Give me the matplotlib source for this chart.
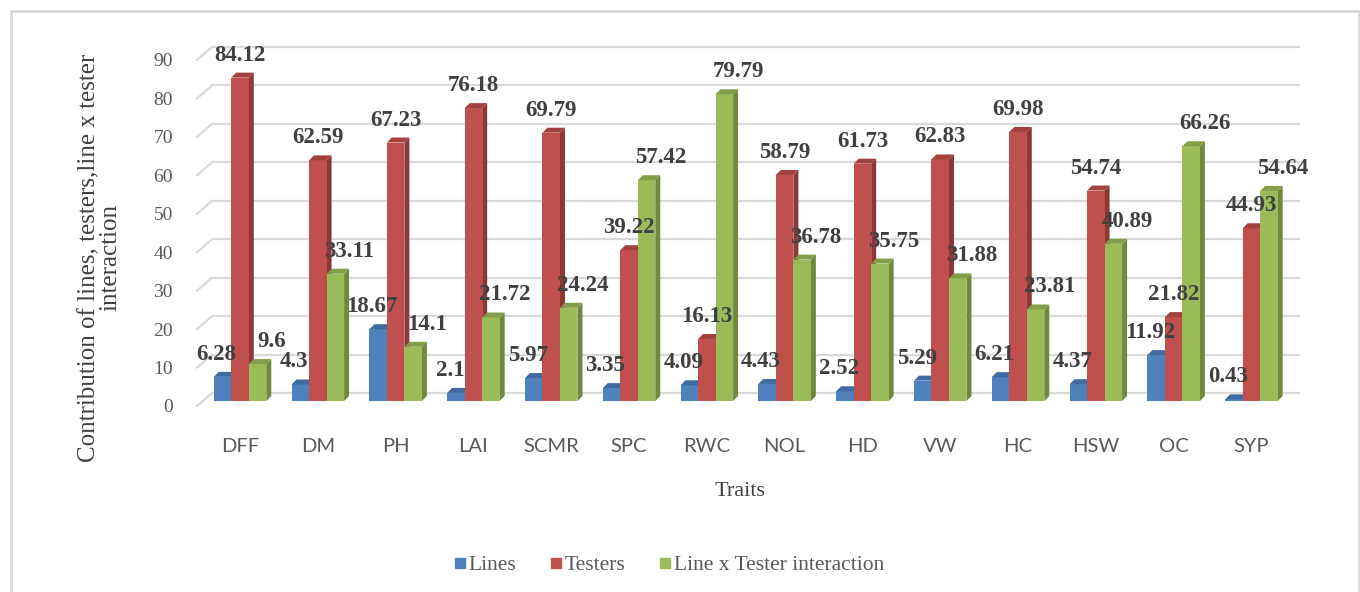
import matplotlib
matplotlib.use("Agg")
import matplotlib.pyplot as plt
import matplotlib.transforms as mtransforms
from matplotlib.patches import Polygon
from matplotlib.lines import Line2D
import numpy as np

traits = ["DFF", "DM", "PH", "LAI", "SCMR", "SPC", "RWC", "NOL", "HD", "VW", "HC", "HSW", "OC", "SYP"]
lines_vals = [6.28, 4.3, 18.67, 2.1, 5.97, 3.35, 4.09, 4.43, 2.52, 5.29, 6.21, 4.37, 11.92, 0.43]
testers_vals = [84.12, 62.59, 67.23, 76.18, 69.79, 39.22, 16.13, 58.79, 61.73, 62.83, 69.98, 54.74, 21.82, 44.93]
inter_vals = [9.6, 33.11, 14.1, 21.72, 24.24, 57.42, 79.79, 36.78, 35.75, 31.88, 23.81, 40.89, 66.26, 54.64]
labels_text = [str(v) for v in lines_vals], [str(v) for v in testers_vals], [str(v) for v in inter_vals]
series_names = ["Lines", "Testers", "Line x Tester interaction"]
yticks = [0, 10, 20, 30, 40, 50, 60, 70, 80, 90]

front = ["#4F81BD", "#C0504D", "#9BBB59"]
side = ["#385D8A", "#8C3836", "#71893F"]
topc = ["#3F6BA0", "#A3413E", "#829E48"]

W, H, DPI = 1360, 592, 100
fig = plt.figure(figsize=(W / DPI, H / DPI), dpi=DPI)
fig.patch.set_facecolor("white")

ax_l, ax_r, ax_b, ax_t = 197, 1300, 401, 55
ax = fig.add_axes([ax_l / W, (H - ax_b) / H, (ax_r - ax_l) / W, (ax_b - ax_t) / H])
ax.set_xlim(-0.553, -0.553 + (ax_r - ax_l) / 77.8)
ax.set_ylim(0, 90)
for s in ax.spines.values():
    s.set_visible(False)
ax.set_facecolor("none")

ppx = (ax_r - ax_l) / (ax.get_xlim()[1] - ax.get_xlim()[0])   # px per x unit
ppy = (ax_b - ax_t) / 90.0                                     # px per y unit

serif = ["Liberation Serif", "DejaVu Serif"]

# grid (back wall) and left stubs
blend = mtransforms.blended_transform_factory(ax.transAxes, ax.transData)
back_up = 8 / ppy
front_dn = 5 / ppy
stub_w = 15 / (ax_r - ax_l)
for v in yticks:
    ax.plot([stub_w, 1.0], [v + back_up, v + back_up], transform=blend, color="#d9d9d9",
            lw=1.6, clip_on=False, zorder=0, solid_capstyle="butt")
    ax.plot([0, stub_w], [v - front_dn, v + back_up], transform=blend, color="#d9d9d9",
            lw=1.6, clip_on=False, zorder=0)
    ax.text(-24 / (ax_r - ax_l), v - front_dn, str(v), transform=blend, ha="right", va="center_baseline",
            fontsize=14, family=serif, color="#595959")

# bars with 3D faces
x = np.arange(len(traits))
w = 0.225
dx = 5 / ppx
dy = 5 / ppy
all_vals = [lines_vals, testers_vals, inter_vals]
label_dx = [-6, 0, 14]
for k, vals in enumerate(all_vals):
    pos = x + (k - 1) * w
    ax.bar(pos, vals, width=w, color=front[k], edgecolor="none", zorder=3 + k, label=series_names[k])
    for p, v in zip(pos, vals):
        x0, x1 = p - w / 2, p + w / 2
        ax.add_patch(Polygon([(x1, 0), (x1 + dx, dy), (x1 + dx, v + dy), (x1, v)],
                             closed=True, facecolor=side[k], edgecolor="none", zorder=2 + k))
        ax.add_patch(Polygon([(x0, v), (x1, v), (x1 + dx, v + dy), (x0 + dx, v + dy)],
                             closed=True, facecolor=topc[k], edgecolor="none", zorder=3 + k))
    for p, v, t in zip(pos, vals, labels_text[k]):
        ax.annotate(t, (p, v), xytext=(label_dx[k] * 0.72, 17 * 0.72), textcoords="offset points",
                    ha="center", va="baseline", fontsize=16.5, fontweight="bold", family=serif,
                    color="#404040", zorder=10)

ax.set_yticks([])
ax.set_xticks(x)
ax.set_xticklabels(traits, fontsize=14.5, family=["Lato", "DejaVu Sans"], color="#595959")
ax.tick_params(axis="x", length=0, pad=27)

fig.text(740 / W, 1 - 491 / H, "Traits", ha="center", va="center", fontsize=16, family=serif, color="#404040")
fig.text(100 / W, 1 - 258 / H, "Contribution of lines, testers,line x tester\ninteraction", rotation=90,
         ha="center", va="center", multialignment="center", fontsize=18, family=serif, color="#404040",
         linespacing=0.92)

handles = [Line2D([], [], marker="s", linestyle="none", markersize=7.5, markerfacecolor=front[k],
                  markeredgecolor=front[k]) for k in range(3)]
fig.legend(handles, series_names, loc="center", bbox_to_anchor=(668 / W, 1 - 565 / H), ncol=3,
           frameon=False, prop={"family": serif, "size": 15.5}, labelcolor="#595959",
           handletextpad=0.05, columnspacing=1.5, handlelength=0.7)

# outer border
bc = "#d9d9d9"
fig.add_artist(Line2D([10.5 / W, 10.5 / W], [0, 1 - 11 / H], transform=fig.transFigure, color=bc, lw=2))
fig.add_artist(Line2D([10.5 / W, 1358.5 / W], [1 - 11 / H, 1 - 11 / H], transform=fig.transFigure, color=bc, lw=2))
fig.add_artist(Line2D([1358.5 / W, 1358.5 / W], [0, 1 - 11 / H], transform=fig.transFigure, color=bc, lw=2))

fig.savefig("out.png", dpi=DPI, facecolor="white")
